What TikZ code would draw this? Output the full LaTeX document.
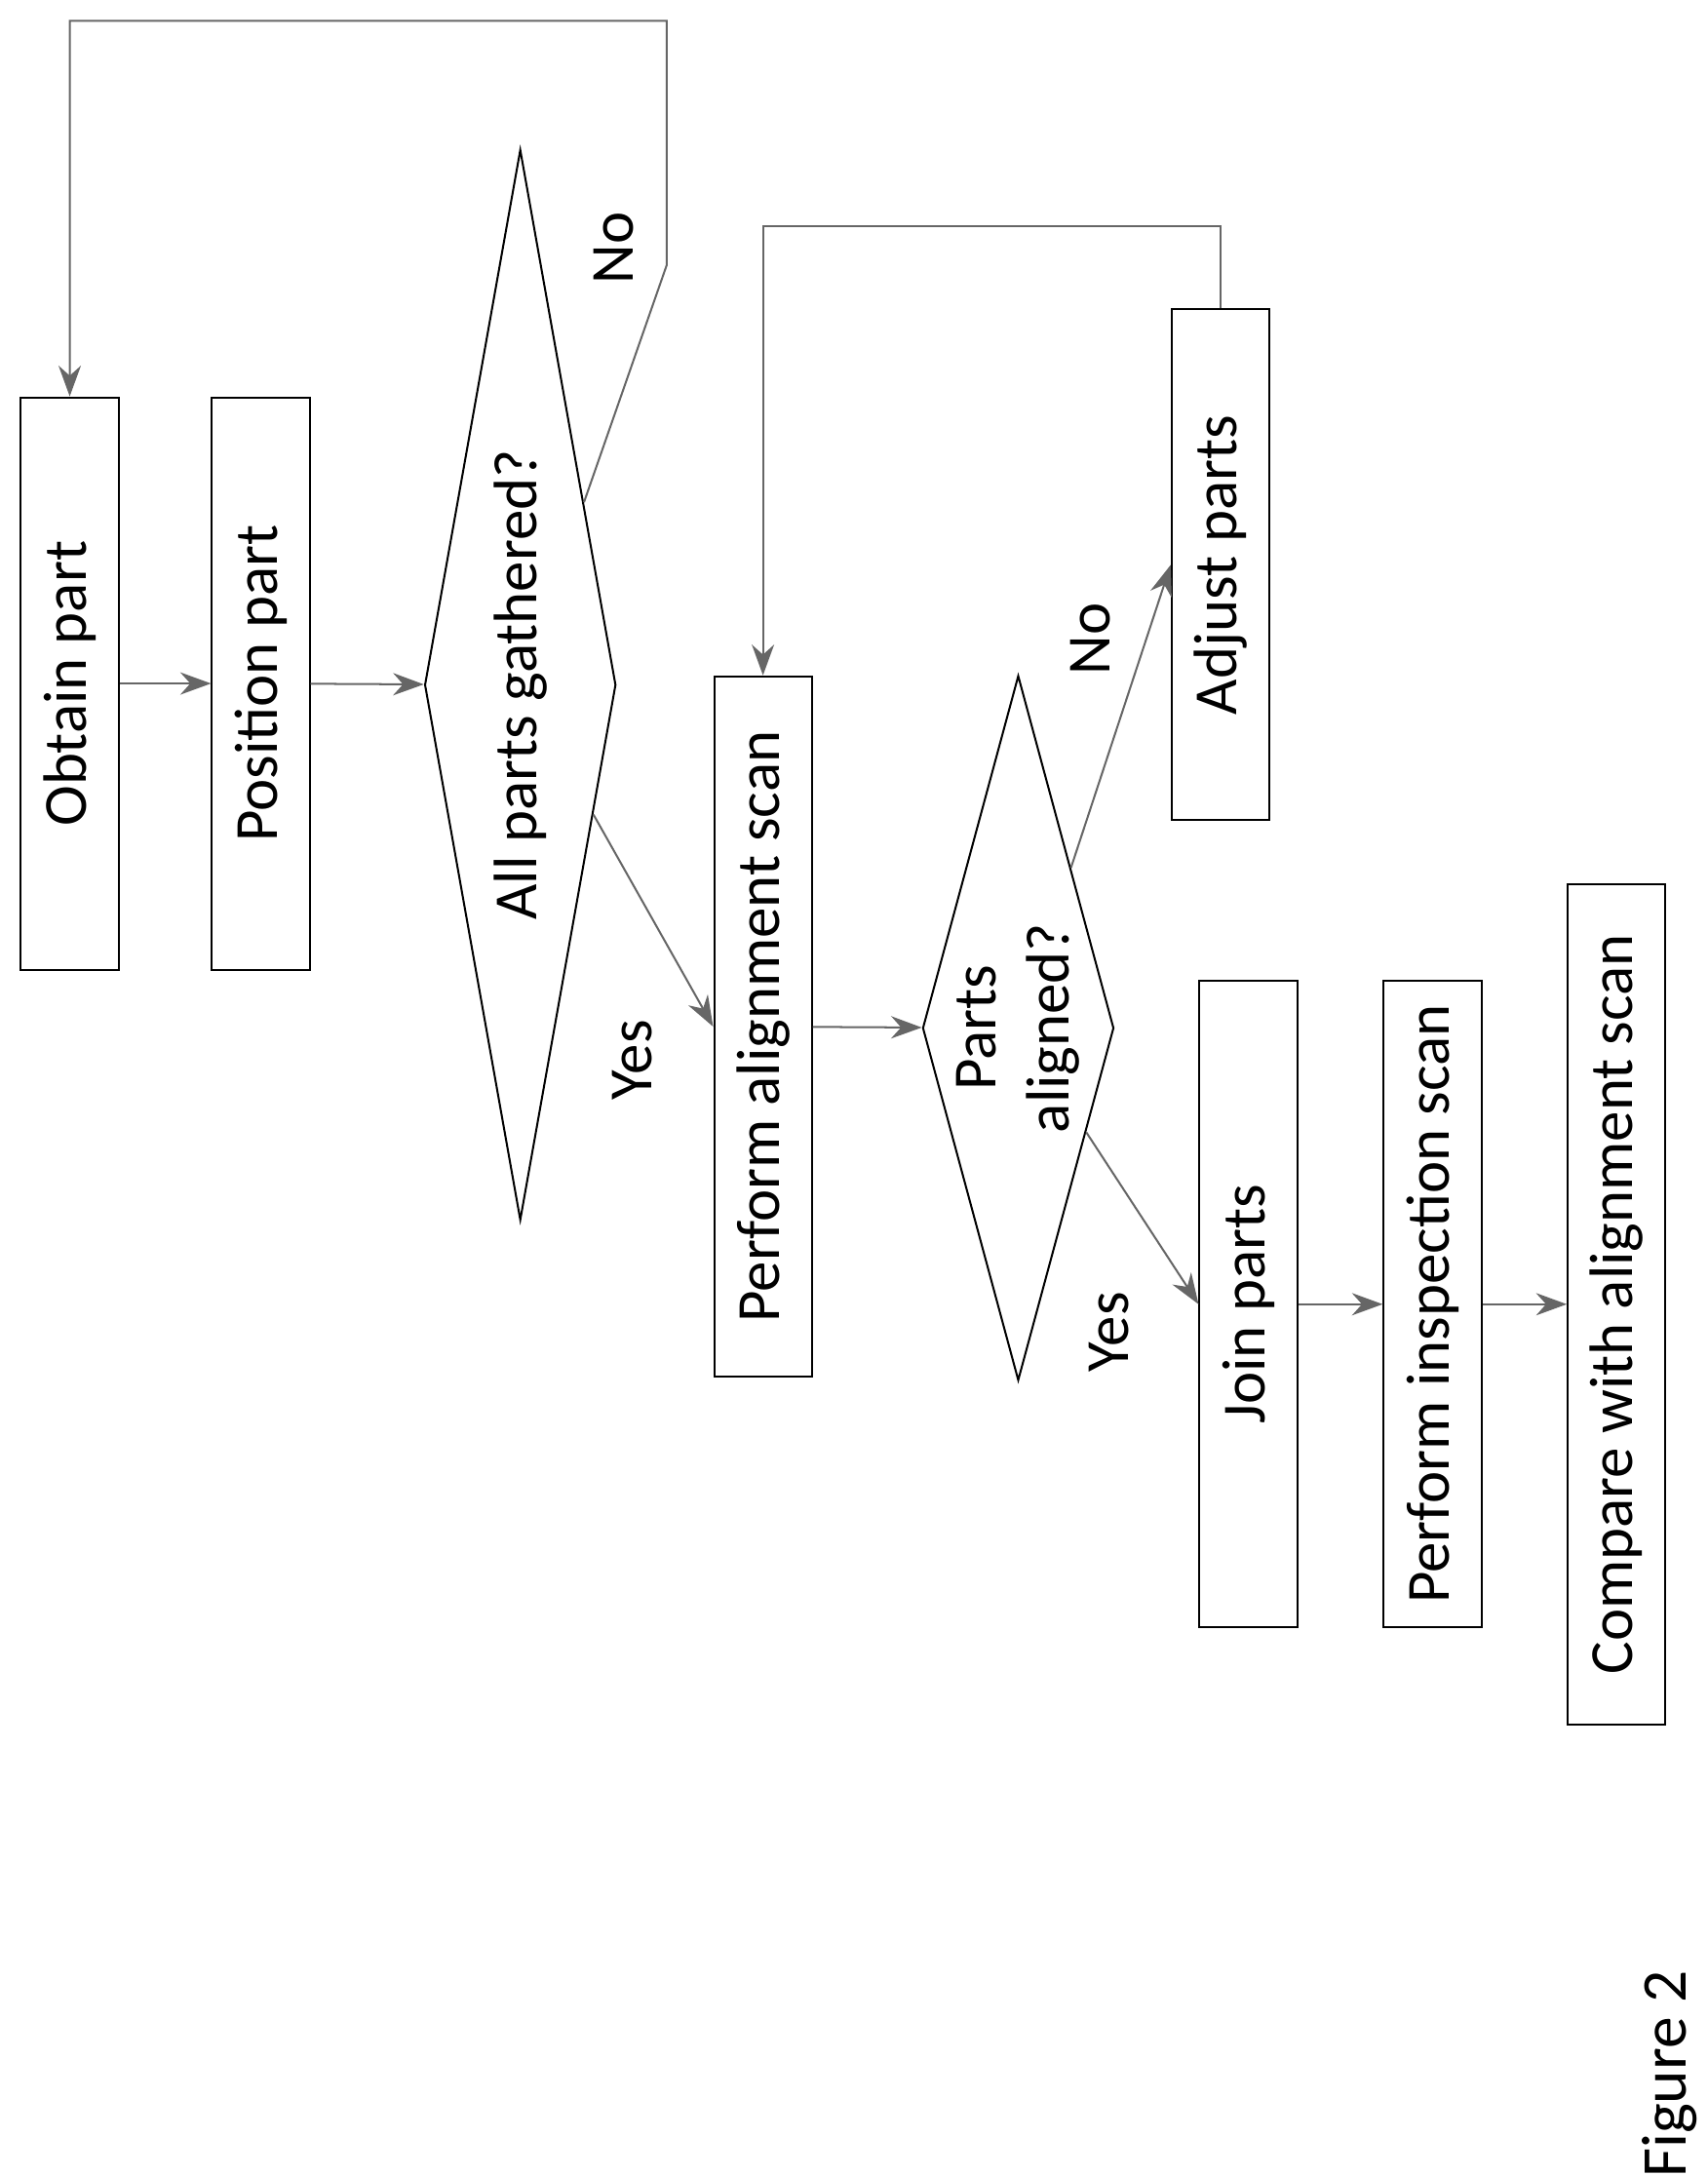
\documentclass[tikz,border=0pt]{standalone}
\usepackage{fontspec}
\setmainfont{Carlito}
\usetikzlibrary{shapes.geometric, arrows.meta}

\begin{document}
\begin{tikzpicture}[x=0.01cm, y=-0.01cm,
        every node/.style={font=\fontsize{12.5}{15}\selectfont},
        proc/.style={rectangle, draw, rotate=90, minimum height=0.7cm, inner sep=0pt, align=center},
        test/.style={diamond, draw, rotate=90, minimum height=1.37cm, inner sep=0pt},
        lbl/.style={rotate=90, align=center},
        arrow/.style={-{Stealth[length=2.2mm, width=1.6mm, fill=gray!80!black]}, draw=gray!80!black, thin}
    ]
        \useasboundingbox (0,0) rectangle (1224,1560);

        \node[proc, minimum width=4.1cm] (obtain) at (50,490) {Obtain part};
        \node[proc, minimum width=4.1cm] (position) at (187,490) {Position part};
        \node[test, minimum width=7.67cm] (gathered) at (373,491) {};
        \node[lbl] (gatheredtxt) at (gathered.center) {All parts gathered?};
        \node[proc, minimum width=5.02cm] (alignscan) at (547,736) {Perform alignment scan};
        \node[test, minimum width=5.05cm] (aligned) at (730,737) {};
        \node[lbl] (alignedtxt) at (aligned.center) {Parts\\aligned?};
        \node[proc, minimum width=3.66cm] (adjust) at (875,405) {Adjust parts};
        \node[proc, minimum width=4.63cm] (join) at (895,935) {Join parts};
        \node[proc, minimum width=4.63cm] (inspect) at (1027,935) {Perform inspection scan};
        \node[proc, minimum width=6.02cm] (compare) at (1159,935) {Compare with alignment scan};

        % Main flow
        \draw[arrow] (obtain) -- (position);
        \draw[arrow] (position) -- (gathered);
        \draw[arrow] (alignscan) -- (aligned);
        \draw[arrow] (join) -- (inspect);
        \draw[arrow] (inspect) -- (compare);

        % Decisions
        \draw[arrow] (gathered) -- (alignscan.north);
        \draw[arrow] (aligned) -- (adjust.north);
        \draw[arrow] (aligned) -- (join.north);
        \node[lbl] (yes1) at (453,760) {Yes};
        \node[lbl] (no2) at (782,458) {No};
        \node[lbl] (yes2) at (795,955) {Yes};

        % Loops back
        \draw[arrow] (gathered) -- (478,190) -- (478,15) -- (50,15) -- (obtain.east);
        \node[lbl] (no1) at (440,178) {No};
        \draw[arrow] (adjust.east) -- (875,162) -- (547,162) -- (alignscan.east);

        \node[lbl, font=\fontsize{13}{16}\selectfont] (fig) at (1197,1487) {Figure 2};
    \end{tikzpicture}
\end{document}
